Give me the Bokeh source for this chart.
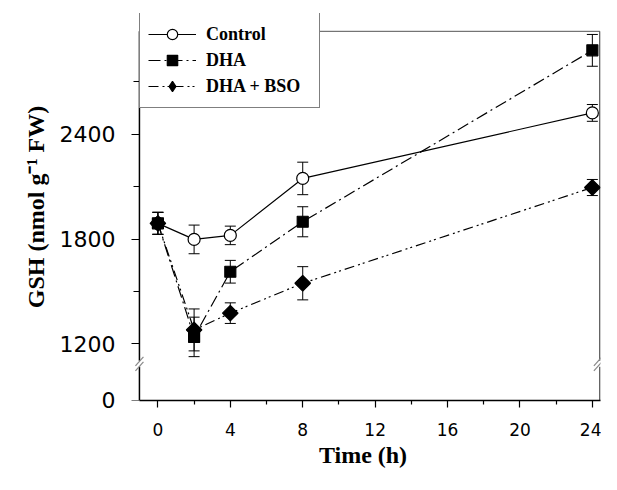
from bokeh.plotting import figure
from bokeh.models import (ColumnDataSource, Whisker, TeeHead, FixedTicker,
                          Legend, LegendItem, Range1d, LinearAxis)
from bokeh.embed import file_html
from bokeh.resources import INLINE

# ---- data ----
time_h = [0, 2, 4, 8, 24]
control = [1890, 1798, 1821, 2147, 2522]
control_err = [63, 82, 53, 93, 48]
dha = [1890, 1240, 1613, 1899, 2880]
dha_err = [63, 113, 65, 86, 91]
dha_bso = [1890, 1280, 1376, 1547, 2095]
dha_bso_err = [63, 120, 59, 95, 46]

x_ticks = [0, 4, 8, 12, 16, 20, 24]
x_minor_ticks = [2, 6, 10, 14, 18, 22]
# broken axis: the "0" tick sits at the bottom of the frame below the break
y_zero_pos = 878
y_ticks = [y_zero_pos, 1200, 1800, 2400]
y_tick_labels = {y_zero_pos: "0", 1200: "1200", 1800: "1800", 2400: "2400"}
y_minor_ticks = [1500, 2100, 2700]
y_break = 1086

# axes box (in data units)
x_lo, x_hi = -1.02, 24.45
y_lo, y_top = 876, 2989
x_start, y_end = -1.79, 3091

p = figure(width=601, height=474, output_backend="svg", toolbar_location=None,
           x_range=Range1d(x_start, x_hi), y_range=Range1d(y_lo, y_end),
           min_border_left=125, min_border_top=13, min_border_right=1,
           min_border_bottom=74)
p.grid.visible = False
p.outline_line_color = None
p.background_fill_color = "white"
p.border_fill_color = "white"


def style(ax, label_size):
    ax.axis_line_color = "black"
    ax.axis_line_width = 1.5
    ax.major_tick_line_color = "black"
    ax.minor_tick_line_color = "black"
    ax.major_tick_line_width = 1.2
    ax.minor_tick_line_width = 1.2
    ax.major_tick_in = 0
    ax.minor_tick_in = 0
    ax.major_label_text_font = "DejaVu Sans"
    ax.major_label_text_font_size = label_size
    ax.major_label_text_color = "black"
    ax.axis_label_text_font = "Liberation Serif"
    ax.axis_label_text_font_style = "bold"
    ax.axis_label_text_font_size = "24px"
    ax.axis_label_text_color = "black"


xax = p.xaxis[0]
style(xax, "17px")
xax.ticker = FixedTicker(ticks=x_ticks, minor_ticks=x_minor_ticks)
xax.bounds = (x_lo, x_hi)
xax.major_tick_out = 7
xax.minor_tick_out = 4
xax.major_label_standoff = 15
xax.axis_label = "Time (h)"
xax.axis_label_standoff = 3

# y axis that carries the tick labels and the title (sits at the frame edge)
yax = p.yaxis[0]
style(yax, "22px")
yax.ticker = FixedTicker(ticks=y_ticks, minor_ticks=y_minor_ticks)
yax.major_label_overrides = y_tick_labels
yax.axis_line_color = None
yax.major_tick_line_color = None
yax.minor_tick_line_color = None
yax.major_tick_out = 0
yax.minor_tick_out = 0
yax.major_label_standoff = 10
yax.axis_label = "GSH (nmol g\u207b\u00b9 FW)"
yax.axis_label_standoff = 8

# y axis that draws the tick marks at the broken axis line
ytk = LinearAxis(fixed_location=x_lo, bounds=(y_lo, y_top),
                 ticker=FixedTicker(ticks=y_ticks, minor_ticks=y_minor_ticks))
style(ytk, "1px")
ytk.axis_line_color = None
ytk.major_tick_out = 8
ytk.minor_tick_out = 6
ytk.major_label_standoff = 0
ytk.major_label_text_alpha = 0
p.add_layout(ytk, "left")

# --- axis box lines with the break (drawn as glyphs) ---
px_x = (x_hi - x_start) / 475.0   # data units per pixel, x
px_y = (y_end - y_lo) / 387.0     # data units per pixel, y
x_right = x_hi - 0.6 * px_x
gap = 3 * px_y
p.segment(x0=[x_lo, x_lo], y0=[y_lo, y_break + gap], x1=[x_lo, x_lo],
          y1=[y_break - gap, y_top], line_color="black", line_width=1.5)
p.segment(x0=[x_right, x_right], y0=[y_lo, y_break + gap], x1=[x_right, x_right],
          y1=[y_break - gap, y_top], line_color="black", line_width=1)
p.segment(x0=[x_lo], y0=[y_top], x1=[x_right], y1=[y_top],
          line_color="#555555", line_width=1)
bx0, by0, bx1, by1 = [], [], [], []
for cx in (x_lo, x_right - 2 * px_x):
    for off in (-2.5, 2.5):
        bx0.append(cx - 4 * px_x); by0.append(y_break + (off - 4.5) * px_y)
        bx1.append(cx + 4 * px_x); by1.append(y_break + (off + 4.5) * px_y)
p.segment(x0=bx0, y0=by0, x1=bx1, y1=by1, line_color="#888888", line_width=1.2)

series = [
    ("Control", control, control_err, "solid", dict(marker="circle", size=12, fill_color="white")),
    ("DHA", dha, dha_err, "12 4 2 4", dict(marker="square", size=11, fill_color="black")),
    ("DHA + BSO", dha_bso, dha_bso_err, "10 4 2 3 2 4",
     dict(marker="square", size=11, angle=0.7853981634, fill_color="black")),
]

items = []
for name, vals, errs, dash, mk in series:
    src = ColumnDataSource(dict(x=time_h, y=vals,
                                upper=[v + e for v, e in zip(vals, errs)],
                                lower=[v - e for v, e in zip(vals, errs)]))
    w = Whisker(source=src, base="x", upper="upper", lower="lower",
                line_color="black", line_width=1,
                upper_head=TeeHead(size=11, line_color="black", line_width=1),
                lower_head=TeeHead(size=11, line_color="black", line_width=1))
    w.level = "underlay"
    p.add_layout(w)
    ln = p.line("x", "y", source=src, line_color="black", line_width=1.2, line_dash=dash)
    sc = p.scatter("x", "y", source=src, line_color="black", line_width=1.2, **mk)
    if mk.get("angle"):
        # legend swatch: a diamond (legend swatches ignore the marker angle)
        sw = p.scatter("x", "y", source=src, marker="diamond", fill_color="black",
                       line_color="black", line_width=1.2, visible=False)
        items.append(LegendItem(label=name, renderers=[ln, sw]))
    else:
        items.append(LegendItem(label=name, renderers=[ln, sc]))

legend = Legend(items=items, location=(14, 292), margin=0, padding=8, spacing=0,
                glyph_width=48, glyph_height=26, label_standoff=10, label_height=20,
                label_width=105,
                label_text_font="Liberation Serif", label_text_font_style="bold",
                label_text_font_size="18px", label_text_color="black",
                border_line_color="black", border_line_width=1,
                background_fill_color="white", background_fill_alpha=1,
                inactive_fill_alpha=0)
p.add_layout(legend, "center")

open("out.html", "w").write(file_html(p, INLINE))
